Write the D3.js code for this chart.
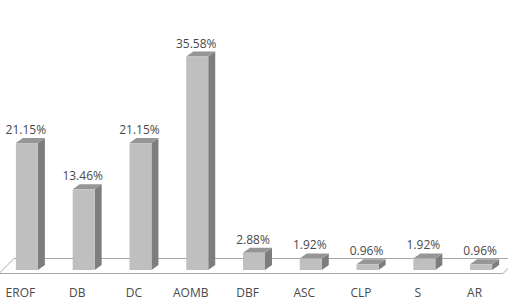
<!DOCTYPE html>
<html>
<head>
<meta charset="utf-8">
<script src="https://cdn.jsdelivr.net/npm/d3@7"></script>
<style>
  body { margin: 0; background: #fff; }
  svg { display: block; font-family: "Open Sans", sans-serif; }
</style>
</head>
<body>
<div id="chart"></div>
<script>
// data
const categories = ["EROF", "DB", "DC", "AOMB", "DBF", "ASC", "CLP", "S", "AR"];
const values = [21.15, 13.46, 21.15, 35.58, 2.88, 1.92, 0.96, 1.92, 0.96];
const valueLabels = ["21.15%", "13.46%", "21.15%", "35.58%", "2.88%", "1.92%", "0.96%", "1.92%", "0.96%"];

const width = 508, height = 300;

// floor (front edge y, back edge y) and 3d depth of the columns
const floorFront = 273.5, floorBack = 258.5;
const floorDx = 15;
const depthX = 7, depthY = 5;
const barW = 22;
const barShift = 6.5; // columns sit a bit behind the front edge

const svg = d3.select("#chart")
    .append("svg")
    .attr("width", width)
    .attr("height", height);

// category positions along the front edge of the floor
const xScale = d3.scaleBand()
    .domain(categories)
    .range([-8, 503])
    .padding(0);

const yScale = d3.scaleLinear()
    .domain([0, 40])
    .range([270, 30]);

// floor
svg.append("path")
    .attr("d", `M-1,${floorFront} L${-1 + floorDx},${floorBack} L${503 + floorDx},${floorBack} L503,${floorFront} Z`)
    .attr("fill", "#fff")
    .attr("stroke", "#a6a6a6")
    .attr("stroke-width", 1);

const bars = svg.selectAll(".bar")
    .data(categories.map((c, i) => ({ cat: c, value: values[i], label: valueLabels[i] })))
    .enter()
    .append("g")
    .attr("class", "bar");

const bx = d => xScale(d.cat) + xScale.bandwidth() / 2 + barShift - barW / 2;

// right side face
bars.append("path")
    .attr("d", d => {
        const x = bx(d) + barW, top = yScale(d.value), bot = yScale(0);
        return `M${x},${bot} L${x},${top} L${x + depthX},${top - depthY} L${x + depthX},${bot - depthY} Z`;
    })
    .attr("fill", "#7d7d7d");

// top face
bars.append("path")
    .attr("d", d => {
        const x = bx(d), top = yScale(d.value);
        return `M${x},${top} L${x + depthX},${top - depthY} L${x + barW + depthX},${top - depthY} L${x + barW},${top} Z`;
    })
    .attr("fill", "#969696");

// front face
bars.append("rect")
    .attr("x", d => bx(d))
    .attr("y", d => yScale(d.value))
    .attr("width", barW)
    .attr("height", d => yScale(0) - yScale(d.value))
    .attr("fill", "#bfbfbf");

// value labels
bars.append("text")
    .attr("x", d => bx(d) + barW / 2 - 1)
    .attr("y", d => yScale(d.value) - 9)
    .attr("text-anchor", "middle")
    .style("font-size", "12px")
    .attr("fill", "#4a4a4a")
    .text(d => d.label);

// category labels
svg.append("g")
    .selectAll("text")
    .data(categories)
    .enter()
    .append("text")
    .attr("x", d => xScale(d) + xScale.bandwidth() / 2)
    .attr("y", 296.5)
    .attr("text-anchor", "middle")
    .style("font-size", "12px")
    .attr("fill", "#4a4a4a")
    .text(d => d);
</script>
</body>
</html>
